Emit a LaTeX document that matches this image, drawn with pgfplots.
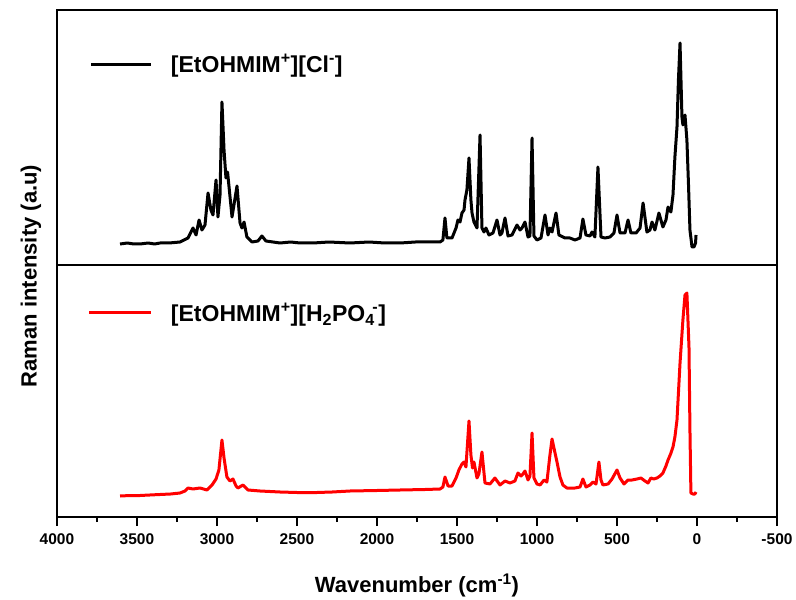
\documentclass[border=0pt]{standalone}
\usepackage{fontspec}
\setmainfont{Liberation Sans}
\usepackage{pgfplots}
\pgfplotsset{compat=1.18}
\begin{document}
\begin{tikzpicture}
\pgfplotsset{
  every axis/.append style={
    scale only axis, width=720pt,
    xmin=-500, xmax=4000, x dir=reverse,
    ymin=0,
    ytick=\empty,
    axis line style={line width=1.3pt},
    every tick/.style={line width=1.3pt, black},
    /pgf/number format/assume math mode=true,
    ticklabel style={font=\bfseries\fontsize{15.5}{18}\selectfont},
    legend style={draw=none, fill=none, inner sep=0pt, outer sep=0pt,
      column sep=18pt, font=\bfseries\fontsize{23}{27}\selectfont,
      nodes={inner sep=0pt}},
    legend cell align=left,
  },
}
\begin{axis}[
  at={(0,0)}, anchor=south west, height=252pt, ymax=252,
  xtick={-500,0,...,4000},
  minor x tick num=1,
  tick align=outside, xtick pos=bottom,
  major tick length=9pt, minor tick length=5pt,
  xticklabel style={yshift=-4pt, /pgf/number format/.cd, fixed, 1000 sep={}},
  xlabel={\bfseries\fontsize{22}{26}\selectfont Wavenumber (cm\textsuperscript{-1})},
  xlabel style={at={(axis description cs:0.5,0)}, anchor=base, yshift=-75pt},
  legend style={at={(0.043,0.81)}, anchor=west},
  legend image code/.code={\draw[#1] (0pt,0pt) -- (62pt,0pt);},
]
\addplot[red, line width=3pt, line join=round] coordinates {
(3606,21) (3540,21.5) (3481,21.5) (3420,22) (3356,22.5) (3290,23) (3231,24) (3200,26) (3181,29) (3150,28) (3106,29)
(3063,27) (3031,32) (3006,38) (2988,47) (2969,77) (2956,59) (2938,40) (2919,36)
(2900,38) (2881,31) (2869,29) (2838,32) (2806,27) (2731,26) (2606,25) (2500,24.5) (2375,24.5)
(2280,25) (2169,26) (2000,26.5) (1856,27) (1700,27.5) (1606,28) (1588,30) (1575,40) (1556,31) (1531,31) (1506,39)
(1488,47) (1469,53) (1456,55) (1444,50) (1425,96) (1413,62) (1403,49) (1394,55)
(1375,39) (1363,43) (1344,65) (1325,34) (1294,33) (1263,39) (1231,32) (1200,36)
(1169,34) (1138,36) (1119,44) (1100,41) (1088,43) (1075,46) (1056,37) (1044,41)
(1031,84) (1019,39) (1000,33) (981,32) (956,37) (938,35) (919,62) (906,78)
(894,69) (875,55) (856,40) (838,32) (813,29) (763,29) (731,30) (713,38)
(694,30) (669,32) (650,35) (631,33) (613,55) (600,37) (588,32) (556,33)
(531,38) (500,47) (481,39) (456,33) (431,37) (406,37) (375,38) (350,39)
(325,36) (306,34) (288,39) (269,38) (250,39) (231,41) (213,44) (194,51)
(181,57) (165,63) (150,70) (138,80) (125,97) (106,154) (88,197) (75,222)
(63,224) (50,170) (44,87) (38,24) (25,23) (13,23) (6,25)
};
\addlegendentry{[EtOHMIM\textsuperscript{+}][H\textsubscript{2}PO\textsubscript{4}\kern-0.1em\textsuperscript{-}]}
\end{axis}
\begin{axis}[
  at={(0,252pt)}, anchor=south west, height=255pt, ymax=255,
  xtick=\empty,
  ylabel={\bfseries\fontsize{22}{26}\selectfont Raman intensity (a.u)},
  ylabel style={at={([xshift=-26pt,yshift=-11pt]axis description cs:0,0)}, anchor=center},
  legend style={at={(0.0458,0.788)}, anchor=west},
  legend image code/.code={\draw[#1] (0pt,0pt) -- (60pt,0pt);},
]
\addplot[black, line width=3pt, line join=round] coordinates {
(3606,21) (3560,22) (3520,21) (3481,21) (3430,22) (3390,21) (3356,22) (3300,22) (3231,23) (3181,27) (3150,37) (3131,30) (3112,45)
(3094,35) (3075,40) (3056,72) (3038,55) (3025,50) (3006,85) (2994,48) (2981,70)
(2969,163) (2956,115) (2944,87) (2934,93) (2906,48) (2875,79) (2856,42) (2844,37)
(2831,43) (2813,28) (2781,23) (2744,24) (2719,29) (2694,24) (2650,23) (2606,22) (2540,23) (2481,22)
(2400,22) (2300,23) (2169,22) (2050,23) (1950,22) (1856,22) (1760,23) (1669,23) (1606,23) (1588,25) (1575,47) (1563,27) (1531,27)
(1506,37) (1494,45) (1481,43) (1469,52) (1456,55) (1450,65) (1438,75) (1425,107)
(1413,65) (1406,52) (1394,43) (1375,37) (1356,130) (1344,37) (1331,33) (1319,37)
(1300,30) (1275,32) (1250,45) (1231,30) (1219,32) (1200,47) (1181,29) (1156,30)
(1125,40) (1106,35) (1094,37) (1075,43) (1056,28) (1044,29) (1031,127) (1019,29)
(1000,25) (975,27) (950,50) (931,30) (919,37) (906,33) (881,52) (863,30)
(825,27) (794,27) (763,25) (731,27) (713,46) (694,30) (669,29) (656,33)
(638,28) (619,98) (600,28) (575,27) (544,28) (519,32) (500,50) (481,32)
(450,32) (431,45) (413,32) (381,32) (356,37) (337,62) (313,33) (294,35)
(281,43) (263,35) (238,52) (213,38) (194,45) (181,58) (163,53) (150,70)
(138,108) (125,138) (116,185) (106,222) (100,185) (94,148) (88,140) (75,150)
(63,125) (53,80) (44,35) (31,18) (19,18) (9,22) (6,30)
};
\addlegendentry{[EtOHMIM\textsuperscript{+}][Cl\textsuperscript{-}]}
\end{axis}
\path[use as bounding box] (-57pt,-77pt) rectangle (739pt,517pt);
\end{tikzpicture}
\end{document}
